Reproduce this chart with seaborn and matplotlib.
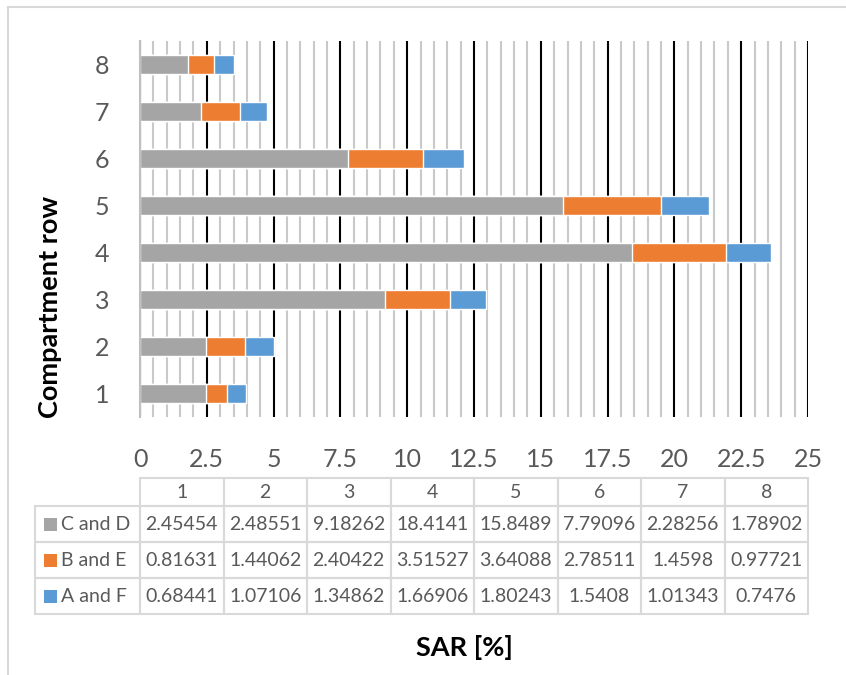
import numpy as np
import pandas as pd
import matplotlib
matplotlib.use("Agg")
import matplotlib.pyplot as plt
from matplotlib.patches import Rectangle
from matplotlib.lines import Line2D
import seaborn as sns

# ---- data ----
rows = ["1", "2", "3", "4", "5", "6", "7", "8"]
series_names = ["C and D", "B and E", "A and F"]
c_and_d = [2.45454, 2.48551, 9.18262, 18.4141, 15.8489, 7.79096, 2.28256, 1.78902]
b_and_e = [0.81631, 1.44062, 2.40422, 3.51527, 3.64088, 2.78511, 1.4598, 0.97721]
a_and_f = [0.68441, 1.07106, 1.34862, 1.66906, 1.80243, 1.5408, 1.01343, 0.7476]
c_and_d_txt = ["2.45454", "2.48551", "9.18262", "18.4141", "15.8489", "7.79096", "2.28256", "1.78902"]
b_and_e_txt = ["0.81631", "1.44062", "2.40422", "3.51527", "3.64088", "2.78511", "1.4598", "0.97721"]
a_and_f_txt = ["0.68441", "1.07106", "1.34862", "1.66906", "1.80243", "1.5408", "1.01343", "0.7476"]
xtick_values = [0, 2.5, 5, 7.5, 10, 12.5, 15, 17.5, 20, 22.5, 25]
xtick_labels = ["0", "2.5", "5", "7.5", "10", "12.5", "15", "17.5", "20", "22.5", "25"]

colors = ["#A5A5A5", "#ED7D31", "#5B9BD5"]

sns.set_style("white")
plt.rcParams["font.family"] = ["Lato", "DejaVu Sans"]

W, H = 846, 675
fig = plt.figure(figsize=(W / 100, H / 100), dpi=100)

def fx(x):
    return x / W

def fy(y):
    return 1 - y / H

ax_l, ax_r, ax_t, ax_b = 140, 808, 41, 417
ax = fig.add_axes([fx(ax_l), fy(ax_b), (ax_r - ax_l) / W, (ax_b - ax_t) / H])

df = pd.DataFrame({"row": rows, "cd": c_and_d, "be": b_and_e, "af": a_and_f})
df["cum2"] = df["cd"] + df["be"]
df["cum3"] = df["cum2"] + df["af"]
order = rows[::-1]

bw = 0.385
sns.barplot(data=df, x="cum3", y="row", order=order, orient="h", color=colors[2],
            width=bw, saturation=1, ax=ax, zorder=2)
sns.barplot(data=df, x="cum2", y="row", order=order, orient="h", color=colors[1],
            width=bw, saturation=1, ax=ax, zorder=3)
sns.barplot(data=df, x="cd", y="row", order=order, orient="h", color=colors[0],
            width=bw, saturation=1, ax=ax, zorder=4)

ax.set_xlim(0, 25)
ax.set_ylim(7.5, -0.5)
ax.set_xticks(xtick_values)
ax.set_xticklabels(xtick_labels)
ax.set_xticks(np.arange(0, 25.01, 0.5), minor=True)
ax.set_axisbelow(True)
ax.grid(which="minor", axis="x", color="#C9C9C9", lw=1.5, zorder=0)
ax.grid(which="major", axis="x", color="black", lw=1.5, zorder=0.5)
ax.grid(which="major", axis="y", visible=False)
for s in ["top", "right", "bottom"]:
    ax.spines[s].set_visible(False)
ax.spines["left"].set_color("#BFBFBF")
ax.spines["left"].set_linewidth(1.5)
ax.spines["left"].set_zorder(5)
ax.tick_params(axis="x", which="both", length=0, pad=22, labelsize=18, labelcolor="#595959")
ax.tick_params(axis="y", length=0, pad=22, labelsize=18, labelcolor="#595959")
ax.set_xlabel("")
ax.set_ylabel("")

# axis titles
fig.text(fx(50), fy(307), "Compartment row", rotation=90, ha="center", va="center",
         fontsize=19.5, fontweight="bold", color="black")
fig.text(fx(464), fy(648), "SAR [%]", ha="center", va="center",
         fontsize=19.5, fontweight="bold", color="black")

# ---- data table ----
edge = "#D9D9D9"
col_w = (ax_r - ax_l) / len(rows)
lab_l = 35
head_t, head_b = 478, 506
row_h = 36

def rect(x0, y0, x1, y1, **kw):
    fig.add_artist(Rectangle((fx(x0), fy(y1)), (x1 - x0) / W, (y1 - y0) / H,
                             transform=fig.transFigure, **kw))

for i, r in enumerate(rows):
    x0 = ax_l + i * col_w
    rect(x0, head_t, x0 + col_w, head_b, fill=False, edgecolor=edge, lw=1.5)
    fig.text(fx(x0 + col_w / 2), fy((head_t + head_b) / 2), r, ha="center", va="center",
             fontsize=14, color="#595959")

texts = [c_and_d_txt, b_and_e_txt, a_and_f_txt]
for j, name in enumerate(series_names):
    y0 = head_b + j * row_h
    y1 = y0 + row_h
    yc = (y0 + y1) / 2
    rect(lab_l, y0, ax_l, y1, fill=False, edgecolor=edge, lw=1.5)
    rect(44, yc - 6.5, 57, yc + 6.5, facecolor=colors[j], edgecolor="none")
    fig.text(fx(61), fy(yc), name, ha="left", va="center", fontsize=14, color="#595959")
    for i in range(len(rows)):
        x0 = ax_l + i * col_w
        rect(x0, y0, x0 + col_w, y1, fill=False, edgecolor=edge, lw=1.5)
        fig.text(fx(x0 + col_w / 2), fy(yc), texts[j][i], ha="center", va="center",
                 fontsize=14, color="#595959")

# outer chart-area border (left and top visible)
fig.add_artist(Line2D([fx(8), fx(8)], [0, fy(7)], transform=fig.transFigure, color="#D9D9D9", lw=1.5))
fig.add_artist(Line2D([fx(8), 1], [fy(7), fy(7)], transform=fig.transFigure, color="#D9D9D9", lw=1.5))

fig.savefig("out.png", dpi=100)
